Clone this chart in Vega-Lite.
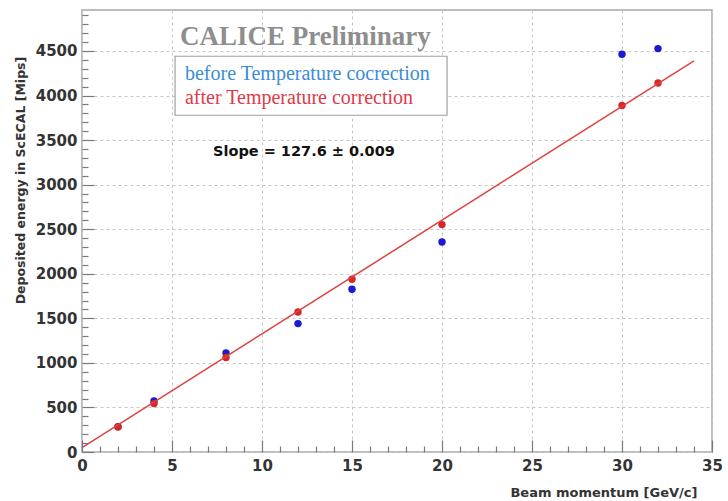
{
  "$schema": "https://vega.github.io/schema/vega-lite/v6.json",
  "width": 630,
  "height": 442,
  "autosize": "none",
  "padding": {"left": 82, "top": 10, "right": 16, "bottom": 49},
  "background": "white",
  "config": {
    "view": {"stroke": "#a8a8a8", "strokeWidth": 1.5},
    "font": "DejaVu Sans"
  },
  "datasets": {
    "points": [
      {"p": 2, "energy": 285, "series": "before"},
      {"p": 4, "energy": 572, "series": "before"},
      {"p": 8, "energy": 1111, "series": "before"},
      {"p": 12, "energy": 1441, "series": "before"},
      {"p": 15, "energy": 1826, "series": "before"},
      {"p": 20, "energy": 2357, "series": "before"},
      {"p": 30, "energy": 4463, "series": "before"},
      {"p": 32, "energy": 4527, "series": "before"},
      {"p": 2, "energy": 280, "series": "after"},
      {"p": 4, "energy": 543, "series": "after"},
      {"p": 8, "energy": 1060, "series": "after"},
      {"p": 12, "energy": 1571, "series": "after"},
      {"p": 15, "energy": 1938, "series": "after"},
      {"p": 20, "energy": 2552, "series": "after"},
      {"p": 30, "energy": 3888, "series": "after"},
      {"p": 32, "energy": 4141, "series": "after"}
    ],
    "fit": [
      {"p": 0, "energy": 50},
      {"p": 34, "energy": 4388}
    ],
    "box": [
      {"x1": 5.17, "x2": 20.28, "y1": 3779, "y2": 4441}
    ],
    "notes": [
      {"p": 5.44, "energy": 4565, "label": "CALICE Preliminary", "kind": "title"},
      {"p": 5.72, "energy": 4171, "label": "before Temperature cocrection", "kind": "before"},
      {"p": 5.72, "energy": 3902, "label": "after Temperature correction", "kind": "after"},
      {"p": 7.28, "energy": 3364, "label": "Slope = 127.6 ± 0.009", "kind": "slope"}
    ]
  },
  "layer": [
    {
      "data": {"name": "points"},
      "mark": {"type": "point", "opacity": 0},
      "encoding": {
        "x": {"field": "p", "type": "quantitative", "scale": {"domain": [0, 35], "nice": false, "zero": false},
          "axis": {"orient": "bottom", "offset": -6, "values": [1,2,3,4,6,7,8,9,11,12,13,14,16,17,18,19,21,22,23,24,26,27,28,29,31,32,33,34], "labels": false, "grid": false, "domain": false, "ticks": true, "tickSize": 6, "tickColor": "#7a7a7a", "tickWidth": 1.2, "title": null, "zindex": 1}},
        "y": {"field": "energy", "type": "quantitative", "scale": {"domain": [0, 4960], "nice": false, "zero": false},
          "axis": {"orient": "left", "offset": -6, "values": [100,200,300,400,600,700,800,900,1100,1200,1300,1400,1600,1700,1800,1900,2100,2200,2300,2400,2600,2700,2800,2900,3100,3200,3300,3400,3600,3700,3800,3900,4100,4200,4300,4400,4600,4700,4800,4900], "labels": false, "grid": false, "domain": false, "ticks": true, "tickSize": 6, "tickColor": "#7a7a7a", "tickWidth": 1.2, "title": null, "zindex": 1}}
      }
    },
    {
      "data": {"name": "points"},
      "mark": {"type": "point", "opacity": 0},
      "encoding": {
        "x": {"field": "p", "type": "quantitative",
          "axis": {"orient": "bottom", "offset": -12, "values": [0,5,10,15,20,25,30,35], "labels": false, "grid": false, "domain": false, "ticks": true, "tickSize": 12, "tickColor": "#7a7a7a", "tickWidth": 1.2, "title": null, "zindex": 1}},
        "y": {"field": "energy", "type": "quantitative",
          "axis": {"orient": "left", "offset": -12, "values": [0,500,1000,1500,2000,2500,3000,3500,4000,4500], "labels": false, "grid": false, "domain": false, "ticks": true, "tickSize": 12, "tickColor": "#7a7a7a", "tickWidth": 1.2, "title": null, "zindex": 1}}
      }
    },
    {
      "data": {"name": "box"},
      "mark": {"type": "rect", "fill": "white", "stroke": "#a0a0a0", "strokeWidth": 1.2},
      "encoding": {
        "x": {"field": "x1", "type": "quantitative", "axis": null},
        "x2": {"field": "x2"},
        "y": {"field": "y1", "type": "quantitative", "axis": null},
        "y2": {"field": "y2"}
      }
    },
    {
      "data": {"name": "points"},
      "mark": {"type": "circle", "size": 55, "opacity": 1},
      "encoding": {
        "x": {"field": "p", "type": "quantitative",
          "axis": {"orient": "bottom", "values": [0,5,10,15,20,25,30,35], "format": "d", "grid": true, "gridColor": "#c8c8c8", "gridDash": [3, 3], "gridWidth": 1, "domain": false, "ticks": false, "labelFont": "DejaVu Sans", "labelFontWeight": "bold", "labelFontSize": 15, "labelColor": "#333333", "labelPadding": 6, "labelFlush": false,
            "title": "Beam momentum [GeV/c]", "titleFont": "DejaVu Sans", "titleFontWeight": "bold", "titleFontSize": 13, "titleColor": "#333333", "titleAnchor": null, "titleX": 615, "titleY": 40, "titleAlign": "right", "titleBaseline": "middle"}},
        "y": {"field": "energy", "type": "quantitative",
          "axis": {"orient": "left", "values": [0,500,1000,1500,2000,2500,3000,3500,4000,4500], "format": "d", "grid": true, "gridColor": "#c8c8c8", "gridDash": [3, 3], "gridWidth": 1, "domain": false, "ticks": false, "labelFont": "DejaVu Sans", "labelFontWeight": "bold", "labelFontSize": 15, "labelColor": "#333333", "labelPadding": 5, "labelFlush": false,
            "title": "Deposited energy in ScECAL [Mips]", "titleFont": "DejaVu Sans", "titleFontWeight": "bold", "titleFontSize": 12.5, "titleColor": "#333333", "titleAnchor": null, "titleX": -62, "titleY": 170, "titleAngle": -90, "titleAlign": "center", "titleBaseline": "middle"}},
        "color": {"field": "series", "type": "nominal", "scale": {"domain": ["before", "after"], "range": ["#1a1ad0", "#d42828"]}, "legend": null},
        "order": {"field": "series", "sort": "descending"}
      }
    },
    {
      "data": {"name": "fit"},
      "mark": {"type": "line", "color": "#e04040", "strokeWidth": 1.5},
      "encoding": {
        "x": {"field": "p", "type": "quantitative", "axis": null},
        "y": {"field": "energy", "type": "quantitative", "axis": null}
      }
    },
    {
      "data": {"name": "notes"},
      "transform": [{"filter": "datum.kind === 'title'"}],
      "mark": {"type": "text", "align": "left", "baseline": "alphabetic", "font": "Liberation Serif", "fontSize": 27, "fontWeight": "bold", "color": "#8e8e8e"},
      "encoding": {
        "x": {"field": "p", "type": "quantitative", "axis": null},
        "y": {"field": "energy", "type": "quantitative", "axis": null},
        "text": {"field": "label"}
      }
    },
    {
      "data": {"name": "notes"},
      "transform": [{"filter": "datum.kind === 'before' || datum.kind === 'after'"}],
      "mark": {"type": "text", "align": "left", "baseline": "alphabetic", "font": "Liberation Serif", "fontSize": 20},
      "encoding": {
        "x": {"field": "p", "type": "quantitative", "axis": null},
        "y": {"field": "energy", "type": "quantitative", "axis": null},
        "text": {"field": "label"},
        "color": {"field": "kind", "type": "nominal", "scale": {"domain": ["before", "after"], "range": ["#3a8cd4", "#e03a48"]}, "legend": null}
      }
    },
    {
      "data": {"name": "notes"},
      "transform": [{"filter": "datum.kind === 'slope'"}],
      "mark": {"type": "text", "align": "left", "baseline": "middle", "font": "DejaVu Sans", "fontSize": 14.5, "fontWeight": "bold", "color": "#111111"},
      "encoding": {
        "x": {"field": "p", "type": "quantitative", "axis": null},
        "y": {"field": "energy", "type": "quantitative", "axis": null},
        "text": {"field": "label"}
      }
    }
  ],
  "resolve": {"axis": {"x": "independent", "y": "independent"}, "scale": {"color": "independent"}}
}
